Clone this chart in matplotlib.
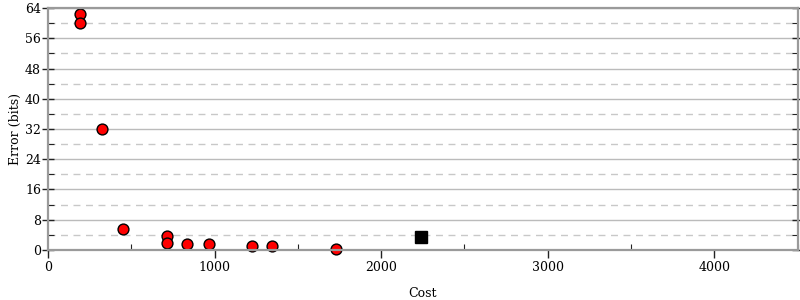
import matplotlib.pyplot as plt
from matplotlib.ticker import MultipleLocator

plt.rcParams['font.family'] = 'DejaVu Serif'

# Puntos de la frontera (coste, error)
cost = [192, 192, 322, 452, 714, 714, 836, 964, 1222, 1347, 1731]
error = [62.3, 60.0, 32.0, 5.47, 3.8, 1.85, 1.5, 1.5, 1.06, 1.06, 0.2]

# Punto de referencia
ref_cost = [2237]
ref_error = [3.36]

fig = plt.figure(figsize=(8, 3), dpi=100)
ax = fig.add_axes([0.06, 0.1667, 0.937, 0.8066])

ax.plot(cost, error, 'o', color='#ff0000', markeredgecolor='black',
        markersize=7.8, markeredgewidth=1, zorder=2, clip_on=False)
ax.plot(ref_cost, ref_error, 's', color='black', markersize=8.2, zorder=2)

ax.set_xlim(0, 4500)
ax.set_ylim(0, 64)
ax.xaxis.set_major_locator(MultipleLocator(1000))
ax.xaxis.set_minor_locator(MultipleLocator(500))
ax.yaxis.set_major_locator(MultipleLocator(8))
ax.yaxis.set_minor_locator(MultipleLocator(4))

ax.grid(True, axis='y', which='major', color='#bbbbbb', lw=1, ls='-')
ax.grid(True, axis='y', which='minor', color='#c8c8c8', lw=1, ls=(0, (5, 4)))
ax.set_axisbelow(True)

for s in ax.spines.values():
    s.set_color('#9a9a9a')
    s.set_linewidth(1.6)

ax.tick_params(axis='x', which='major', direction='out', length=6, width=1,
               color='#222222', labelsize=9, pad=2)
ax.tick_params(axis='x', which='minor', direction='in', length=4, width=0.8,
               color='#222222')
ax.tick_params(axis='y', which='major', direction='inout', length=8, width=1,
               color='#222222', labelsize=9, right=True, pad=1)
ax.tick_params(axis='y', which='minor', direction='in', length=4, width=0.8,
               color='#222222', right=True)

ax.set_xlabel('Cost', fontsize=9, labelpad=9)
ax.set_ylabel('Error (bits)', fontsize=9, labelpad=2)

plt.savefig('out.png', dpi=100)
